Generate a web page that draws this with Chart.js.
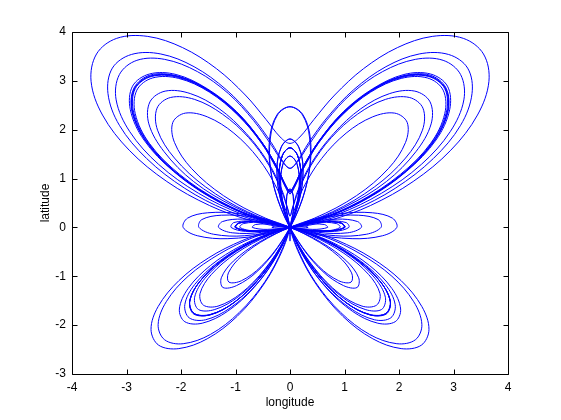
<!DOCTYPE html>
<html>
<head>
<meta charset="utf-8">
<script src="https://cdn.jsdelivr.net/npm/chart.js@4"></script>
<style>
html,body{margin:0;padding:0;background:#fff;}
canvas{display:block;}
</style>
</head>
<body>
<canvas id="c" width="561" height="420"></canvas>
<script>
// Axis ticks
const xTicks = [-4,-3,-2,-1,0,1,2,3,4];
const yTicks = [-3,-2,-1,0,1,2,3,4];
const xLabel = 'longitude';
const yLabel = 'latitude';

// Curve points [longitude, latitude], in drawing order (four consecutive parts)
const path1 = [[0,.72],[.08,.85],[.24,1.23],[.53,1.76],[.96,2.33],[1.5,2.81],[2.06,3.09],[2.55,3.1],[2.85,2.85],[2.89,2.37],[2.63,1.75],[2.09,1.12],[1.35,.56],[.55,.17],[-.2,-.04],[-.74,-.07],[-1,0],[-.94,.09],[-.58,.12],[-.02,.01],[.63,-.26],[1.23,-.66],[1.65,-1.1],[1.84,-1.51],[1.76,-1.76],[1.47,-1.79],[1.03,-1.54],[.56,-1.04],[.15,-.37],[-.11,.36],[-.2,1.02],[-.14,1.47],[0,1.63],[.14,1.47],[.2,1.02],[.11,.36],[-.15,-.37],[-.56,-1.04],[-1.03,-1.54],[-1.46,-1.78],[-1.76,-1.76],[-1.84,-1.51],[-1.65,-1.1],[-1.22,-.65],[-.63,-.26],[.02,.01],[.59,.12],[.94,.09],[1.01,0],[.75,-.07],[.21,-.04],[-.54,.16],[-1.34,.56],[-2.08,1.11],[-2.61,1.75],[-2.87,2.36],[-2.84,2.84],[-2.54,3.09],[-2.05,3.07],[-1.49,2.79],[-.96,2.31],[-.53,1.74],[-.24,1.2],[-.08,.82],
[0,.69],[.08,.82],[.24,1.19],[.52,1.72],[.95,2.29],[1.48,2.77],[2.04,3.05],[2.52,3.06],[2.81,2.81],[2.84,2.33],[2.58,1.72],[2.03,1.09],[1.29,.54],[.48,.15],[-.27,-.05],[-.82,-.08],[-1.08,0],[-1.03,.1],[-.67,.13],[-.11,.03],[.54,-.22],[1.13,-.6],[1.56,-1.04],[1.75,-1.43],[1.68,-1.68],[1.38,-1.68],[.95,-1.42],[.49,-.91],[.1,-.23],[-.16,.51],[-.24,1.18],[-.16,1.64],[0,1.81],[.16,1.65],[.24,1.21],[.17,.56],[-.07,-.18],[-.46,-.85],[-.9,-1.35],[-1.32,-1.61],[-1.59,-1.59],[-1.65,-1.35],[-1.44,-.96],[-.99,-.53],[-.38,-.16],[.29,.09],[.87,.17],[1.24,.12],[1.31,0],[1.06,-.11],[.52,-.1],[-.22,.07],[-1.03,.43],[-1.77,.94],[-2.31,1.55],[-2.59,2.12],[-2.57,2.57],[-2.29,2.79],[-1.83,2.74],[-1.3,2.43],[-.8,1.92],[-.4,1.33],[-.15,.77],[-.04,.38],
[0,.23],[.04,.36],[.15,.73],[.38,1.26],[.76,1.84],[1.24,2.32],[1.75,2.62],[2.19,2.66],[2.44,2.44],[2.43,1.99],[2.12,1.42],[1.55,.83],[.78,.32],[-.06,-.02],[-.83,-.17],[-1.4,-.14],[-1.67,0],[-1.62,.16],[-1.26,.25],[-.69,.21],[-.03,.01],[.58,-.31],[1.04,-.69],[1.26,-1.03],[1.23,-1.23],[.98,-1.19],[.59,-.89],[.18,-.34],[-.16,.37],[-.35,1.14],[-.36,1.83],[-.23,2.3],[0,2.47],[.23,2.32],[.37,1.86],[.36,1.2],[.18,.44],[-.14,-.26],[-.53,-.8],[-.89,-1.09],[-1.12,-1.12],[-1.13,-.93],[-.89,-.59],[-.41,-.22],[.23,.1],[.92,.28],[1.51,.3],[1.88,.19],[1.96,0],[1.7,-.17],[1.14,-.23],[.38,-.12],[-.45,.19],[-1.22,.65],[-1.81,1.21],[-2.12,1.74],[-2.15,2.15],[-1.92,2.34],[-1.51,2.26],[-1.03,1.93],[-.58,1.41],[-.24,.8],[-.05,.25],[.01,-.14],
[0,-.28]];

const path2 = [[-.01,-.14],[.05,.25],[.24,.8],[.58,1.41],[1.03,1.93],[1.51,2.26],[1.92,2.34],[2.15,2.15],[2.12,1.74],[1.81,1.21],[1.22,.65],[.45,.19],[-.38,-.12],[-1.14,-.23],[-1.7,-.17],[-1.96,0],[-1.88,.19],[-1.51,.3],[-.92,.28],[-.23,.1],[.41,-.22],[.89,-.59],[1.13,-.93],[1.12,-1.12],[.89,-1.09],[.53,-.8],[.14,-.26],[-.18,.44],[-.36,1.2],[-.37,1.86],[-.23,2.32],[0,2.47],[.23,2.3],[.36,1.83],[.35,1.14],[.16,.37],[-.18,-.34],[-.59,-.89],[-.98,-1.19],[-1.23,-1.23],[-1.26,-1.03],[-1.04,-.69],[-.58,-.31],[.03,.01],[.69,.21],[1.26,.25],[1.62,.16],[1.67,0],[1.4,-.14],[.83,-.17],[.06,-.02],[-.78,.32],[-1.55,.83],[-2.12,1.42],[-2.43,1.99],[-2.44,2.44],[-2.19,2.66],[-1.75,2.62],[-1.24,2.32],[-.76,1.84],[-.38,1.26],[-.15,.73],[-.04,.36],[0,.23],
[.04,.38],[.15,.77],[.4,1.33],[.8,1.92],[1.3,2.43],[1.83,2.74],[2.29,2.79],[2.57,2.57],[2.59,2.12],[2.31,1.55],[1.77,.94],[1.03,.43],[.22,.07],[-.52,-.1],[-1.06,-.11],[-1.31,0],[-1.24,.12],[-.87,.17],[-.29,.09],[.38,-.16],[.99,-.53],[1.44,-.96],[1.65,-1.35],[1.59,-1.59],[1.32,-1.61],[.9,-1.35],[.46,-.85],[.07,-.18],[-.17,.56],[-.24,1.21],[-.16,1.65],[0,1.81],[.16,1.64],[.24,1.18],[.16,.51],[-.1,-.23],[-.49,-.91],[-.95,-1.42],[-1.38,-1.68],[-1.68,-1.68],[-1.75,-1.43],[-1.56,-1.04],[-1.13,-.6],[-.54,-.22],[.11,.03],[.67,.13],[1.03,.1],[1.08,0],[.82,-.08],[.27,-.05],[-.48,.15],[-1.29,.54],[-2.03,1.09],[-2.58,1.72],[-2.84,2.33],[-2.81,2.81],[-2.52,3.06],[-2.04,3.05],[-1.48,2.77],[-.95,2.29],[-.52,1.72],[-.24,1.19],[-.08,.82],[0,.69],
[.08,.82],[.24,1.2],[.53,1.74],[.96,2.31],[1.49,2.79],[2.05,3.07],[2.54,3.09],[2.84,2.84],[2.87,2.36],[2.61,1.75],[2.08,1.11],[1.34,.56],[.54,.16],[-.21,-.04],[-.75,-.07],[-1.01,0],[-.94,.09],[-.59,.12],[-.02,.01],[.63,-.26],[1.22,-.65],[1.65,-1.1],[1.84,-1.51],[1.76,-1.76],[1.46,-1.78],[1.03,-1.54],[.56,-1.04],[.15,-.37],[-.11,.36],[-.2,1.02],[-.14,1.47],[0,1.63],[.14,1.47],[.2,1.02],[.11,.36],[-.15,-.37],[-.56,-1.04],[-1.03,-1.54],[-1.47,-1.79],[-1.76,-1.76],[-1.84,-1.51],[-1.65,-1.1],[-1.23,-.66],[-.63,-.26],[.02,.01],[.58,.12],[.94,.09],[1,0],[.74,-.07],[.2,-.04],[-.55,.17],[-1.35,.56],[-2.09,1.12],[-2.63,1.75],[-2.89,2.37],[-2.85,2.85],[-2.55,3.1],[-2.06,3.09],[-1.5,2.81],[-.96,2.33],[-.53,1.76],[-.24,1.23],[-.08,.85],[0,.72]];

const path3 = [[.08,.85],[.24,1.23],[.53,1.76],[.96,2.33],[1.5,2.81],[2.06,3.09],[2.55,3.1],[2.85,2.85],[2.89,2.37],[2.63,1.75],[2.09,1.12],[1.35,.56],[.55,.17],[-.2,-.04],[-.74,-.07],[-1,0],[-.94,.09],[-.58,.12],[-.02,.01],[.63,-.26],[1.23,-.66],[1.65,-1.1],[1.84,-1.51],[1.76,-1.76],[1.47,-1.79],[1.03,-1.54],[.56,-1.04],[.15,-.37],[-.11,.36],[-.2,1.02],[-.14,1.47],[0,1.63],[.14,1.47],[.2,1.02],[.11,.36],[-.15,-.37],[-.56,-1.04],[-1.03,-1.54],[-1.47,-1.79],[-1.77,-1.77],[-1.84,-1.51],[-1.66,-1.11],[-1.23,-.66],[-.64,-.26],[.01,0],[.57,.11],[.93,.09],[.99,0],[.73,-.07],[.19,-.04],[-.56,.17],[-1.37,.57],[-2.1,1.12],[-2.64,1.76],[-2.9,2.38],[-2.86,2.86],[-2.56,3.12],[-2.07,3.1],[-1.51,2.82],[-.97,2.35],[-.54,1.78],[-.25,1.26],[-.09,.88],
[0,.75],[.09,.89],[.25,1.26],[.55,1.8],[.98,2.37],[1.52,2.84],[2.09,3.13],[2.58,3.14],[2.89,2.89],[2.93,2.41],[2.68,1.79],[2.14,1.15],[1.42,.59],[.62,.19],[-.12,-.02],[-.66,-.07],[-.92,0],[-.85,.08],[-.49,.1],[.08,-.02],[.73,-.3],[1.32,-.71],[1.75,-1.17],[1.93,-1.58],[1.85,-1.85],[1.55,-1.89],[1.1,-1.65],[.62,-1.17],[.21,-.51],[-.07,.22],[-.17,.86],[-.13,1.3],[0,1.46],[.13,1.29],[.17,.83],[.05,.17],[-.23,-.56],[-.66,-1.23],[-1.15,-1.72],[-1.61,-1.96],[-1.93,-1.93],[-2.03,-1.67],[-1.87,-1.25],[-1.46,-.78],[-.89,-.37],[-.26,-.08],[.29,.06],[.63,.06],[.69,0],[.42,-.04],[-.13,.03],[-.88,.27],[-1.68,.7],[-2.41,1.29],[-2.94,1.96],[-3.19,2.61],[-3.13,3.13],[-2.81,3.42],[-2.3,3.44],[-1.7,3.19],[-1.13,2.74],[-.67,2.19],[-.34,1.68],[-.13,1.33],
[0,1.21],[.13,1.35],[.34,1.73],[.69,2.26],[1.17,2.82],[1.76,3.29],[2.37,3.55],[2.91,3.54],[3.26,3.26],[3.34,2.74],[3.13,2.09],[2.63,1.41],[1.93,.8],[1.16,.35],[.44,.09],[-.08,-.01],[-.33,0],[-.26,.03],[.1,-.02],[.66,-.2],[1.29,-.54],[1.87,-1],[2.27,-1.52],[2.42,-1.99],[2.3,-2.3],[1.96,-2.38],[1.46,-2.19],[.93,-1.74],[.46,-1.11],[.13,-.41],[-.04,.21],[-.06,.64],[0,.79],[.06,.63],[.04,.18],[-.14,-.47],[-.49,-1.18],[-.97,-1.82],[-1.52,-2.28],[-2.04,-2.48],[-2.41,-2.41],[-2.55,-2.09],[-2.42,-1.62],[-2.04,-1.09],[-1.49,-.62],[-.88,-.27],[-.35,-.07],[-.01,0],[.04,0],[-.22,.02],[-.75,.15],[-1.48,.45],[-2.26,.94],[-2.95,1.58],[-3.44,2.3],[-3.65,2.99],[-3.55,3.55],[-3.18,3.87],[-2.61,3.91],[-1.97,3.68],[-1.35,3.25],[-.82,2.71],[-.44,2.21],[-.18,1.85],
[0,1.72]];

const path4 = [[.18,1.85],[.44,2.21],[.82,2.71],[1.35,3.25],[1.97,3.68],[2.61,3.91],[3.18,3.87],[3.55,3.55],[3.65,2.99],[3.44,2.3],[2.95,1.58],[2.26,.94],[1.48,.45],[.75,.15],[.22,.02],[-.04,0],[.01,0],[.35,-.07],[.88,-.27],[1.49,-.62],[2.04,-1.09],[2.42,-1.62],[2.55,-2.09],[2.41,-2.41],[2.04,-2.48],[1.52,-2.28],[.97,-1.82],[.49,-1.18],[.14,-.47],[-.04,.18],[-.06,.63],[0,.79],[.06,.64],[.04,.21],[-.13,-.41],[-.46,-1.11],[-.93,-1.74],[-1.46,-2.19],[-1.96,-2.38],[-2.3,-2.3],[-2.42,-1.99],[-2.27,-1.52],[-1.87,-1],[-1.29,-.54],[-.66,-.2],[-.1,-.02],[.26,.03],[.33,0],[.08,-.01],[-.44,.09],[-1.16,.35],[-1.93,.8],[-2.63,1.41],[-3.13,2.09],[-3.34,2.74],[-3.26,3.26],[-2.91,3.54],[-2.37,3.55],[-1.76,3.29],[-1.17,2.82],[-.69,2.26],[-.34,1.73],[-.13,1.35],[0,1.21],
[.13,1.33],[.34,1.68],[.67,2.19],[1.13,2.74],[1.7,3.19],[2.3,3.44],[2.81,3.42],[3.13,3.13],[3.19,2.61],[2.94,1.96],[2.41,1.29],[1.68,.7],[.88,.27],[.13,.03],[-.42,-.04],[-.69,0],[-.63,.06],[-.29,.06],[.26,-.08],[.89,-.37],[1.46,-.78],[1.87,-1.25],[2.03,-1.67],[1.93,-1.93],[1.61,-1.96],[1.15,-1.72],[.66,-1.23],[.23,-.56],[-.05,.17],[-.17,.83],[-.13,1.29],[0,1.46],[.13,1.3],[.17,.86],[.07,.22],[-.21,-.51],[-.62,-1.17],[-1.1,-1.65],[-1.55,-1.89],[-1.85,-1.85],[-1.93,-1.58],[-1.75,-1.17],[-1.32,-.71],[-.73,-.3],[-.08,-.02],[.49,.1],[.85,.08],[.92,0],[.66,-.07],[.12,-.02],[-.62,.19],[-1.42,.59],[-2.14,1.15],[-2.68,1.79],[-2.93,2.41],[-2.89,2.89],[-2.58,3.14],[-2.09,3.13],[-1.52,2.84],[-.98,2.37],[-.55,1.8],[-.25,1.26],[-.09,.89],[0,.75],
[.09,.88],[.25,1.26],[.54,1.78],[.97,2.35],[1.51,2.82],[2.07,3.1],[2.56,3.12],[2.86,2.86],[2.9,2.38],[2.64,1.76],[2.1,1.12],[1.37,.57],[.56,.17],[-.19,-.04],[-.73,-.07],[-.99,0],[-.93,.09],[-.57,.11],[-.01,0],[.64,-.26],[1.23,-.66],[1.66,-1.11],[1.84,-1.51],[1.77,-1.77],[1.47,-1.79],[1.03,-1.54],[.56,-1.04],[.15,-.37],[-.11,.36],[-.2,1.02],[-.14,1.47],[0,1.63],[.14,1.47],[.2,1.02],[.11,.36],[-.15,-.37],[-.56,-1.04],[-1.03,-1.54],[-1.47,-1.79],[-1.76,-1.76],[-1.84,-1.51],[-1.65,-1.1],[-1.23,-.66],[-.63,-.26],[.02,.01],[.58,.12],[.94,.09],[1,0],[.74,-.07],[.2,-.04],[-.55,.17],[-1.35,.56],[-2.09,1.12],[-2.63,1.75],[-2.89,2.37],[-2.85,2.85],[-2.55,3.1],[-2.06,3.09],[-1.5,2.81],[-.96,2.33],[-.53,1.76],[-.24,1.23],[-.08,.85],[0,.72]];

const points = [...path1, ...path2, ...path3, ...path4].map(([x, y]) => ({x, y}));

const FONT = {family: '"Liberation Sans", Arial, Helvetica, sans-serif', size: 12};

const framePlugin = {
  id: 'matlabFrame',
  afterDatasetsDraw(chart) {
    const {ctx, chartArea: a, scales} = chart;
    const L = Math.round(a.left) + 0.5, R = Math.round(a.right) + 0.5;
    const T = Math.round(a.top) + 0.5, B = Math.round(a.bottom) + 0.5;
    const len = 5;
    ctx.save();
    ctx.strokeStyle = '#000';
    ctx.lineWidth = 1;
    ctx.beginPath();
    ctx.rect(L, T, R - L, B - T);
    xTicks.forEach(v => {
      const p = Math.round(scales.x.getPixelForValue(v)) + 0.5;
      ctx.moveTo(p, B); ctx.lineTo(p, B - len);
      ctx.moveTo(p, T); ctx.lineTo(p, T + len);
    });
    yTicks.forEach(v => {
      const p = Math.round(scales.y.getPixelForValue(v)) + 0.5;
      ctx.moveTo(L, p); ctx.lineTo(L + len, p);
      ctx.moveTo(R, p); ctx.lineTo(R - len, p);
    });
    ctx.stroke();
    ctx.restore();
  }
};

new Chart(document.getElementById('c'), {
  type: 'scatter',
  data: {
    datasets: [{
      data: points,
      showLine: true,
      borderColor: '#0000ff',
      borderWidth: 1,
      pointRadius: 0,
      pointHoverRadius: 0,
      tension: 0.35,
      fill: false
    }]
  },
  options: {
    responsive: false,
    animation: false,
    devicePixelRatio: 1,
    events: [],
    layout: {padding: {left: 0, right: 53, top: 32, bottom: 0}},
    plugins: {legend: {display: false}, tooltip: {enabled: false}},
    scales: {
      x: {
        type: 'linear', min: -4, max: 4,
        grid: {display: false, drawTicks: false}, border: {display: false},
        afterBuildTicks: s => { s.ticks = xTicks.map(v => ({value: v})); },
        afterFit: s => { s.height = 46; },
        ticks: {color: '#000', font: FONT, padding: 6, maxRotation: 0, autoSkip: false},
        title: {display: true, text: xLabel, color: '#000', font: FONT, padding: {top: 0, bottom: 10}}
      },
      y: {
        type: 'linear', min: -3, max: 4,
        grid: {display: false, drawTicks: false}, border: {display: false},
        afterBuildTicks: s => { s.ticks = yTicks.map(v => ({value: v})); },
        afterFit: s => { s.width = 72; },
        ticks: {color: '#000', font: FONT, padding: 6, autoSkip: false},
        title: {display: true, text: yLabel, color: '#000', font: FONT, padding: {top: 38, bottom: 0}}
      }
    }
  },
  plugins: [framePlugin]
});
</script>
</body>
</html>
